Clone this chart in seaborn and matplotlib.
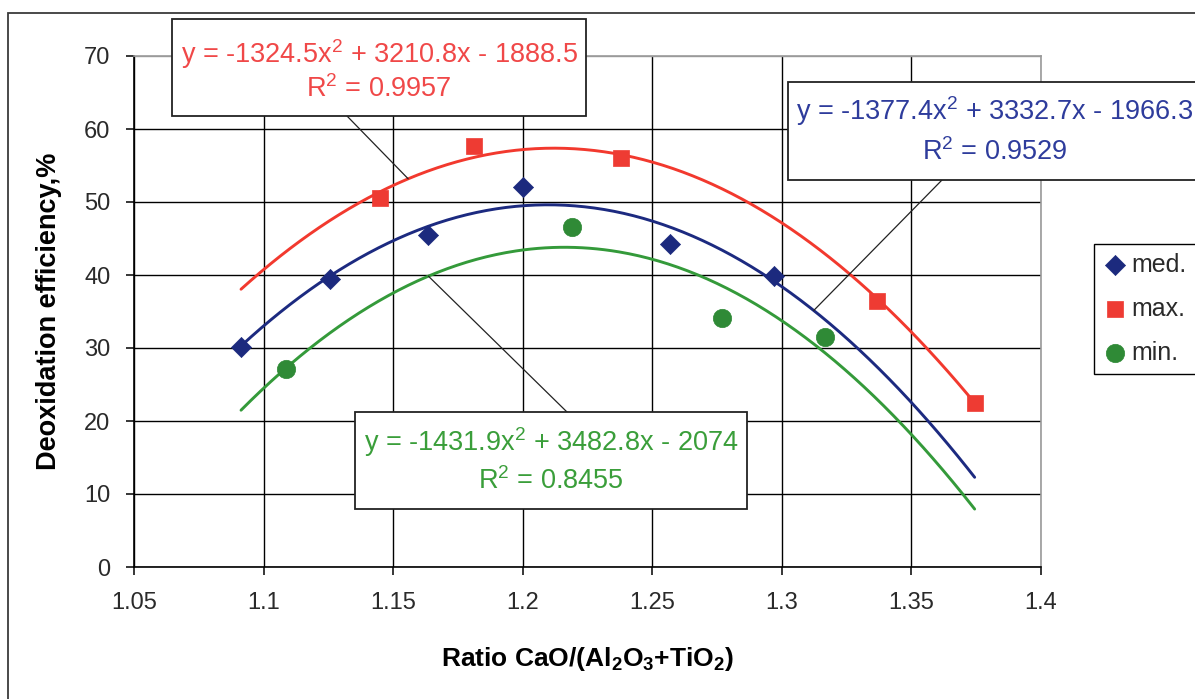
import numpy as np
import pandas as pd
import matplotlib
matplotlib.use("Agg")
import matplotlib.pyplot as plt
from matplotlib.patches import Rectangle, ConnectionPatch
import seaborn as sns

# ---------------- data ----------------
med_x = [1.0913, 1.1257, 1.1634, 1.2000, 1.2568, 1.2970]
med_y = [30.2, 39.5, 45.5, 52.0, 44.3, 39.9]
max_x = [1.1450, 1.1812, 1.2379, 1.3369, 1.3744]
max_y = [50.5, 57.7, 56.0, 36.4, 22.5]
min_x = [1.1088, 1.2191, 1.2770, 1.3167]
min_y = [27.1, 46.6, 34.1, 31.5]

series_names = ["med.", "max.", "min."]
# trendline coefficients printed on the chart (a, b, c of a*x^2 + b*x + c)
coef_med = [-1377.4, 3332.7, -1966.3]
coef_max = [-1324.5, 3210.8, -1888.5]
coef_min = [-1431.9, 3482.8, -2074.0]
r2_med, r2_max, r2_min = "0.9529", "0.9957", "0.8455"
eq_med = "y = -1377.4x$^{2}$ + 3332.7x - 1966.3"
eq_max = "y = -1324.5x$^{2}$ + 3210.8x - 1888.5"
eq_min = "y = -1431.9x$^{2}$ + 3482.8x - 2074"
# x position where each label's leader line meets its trendline
leader_x_med, leader_x_max, leader_x_min = 1.3123, 1.1558, 1.1636

x_ticks = [1.05, 1.1, 1.15, 1.2, 1.25, 1.3, 1.35, 1.4]
x_tick_labels = ["1.05", "1.1", "1.15", "1.2", "1.25", "1.3", "1.35", "1.4"]
y_ticks = [0, 10, 20, 30, 40, 50, 60, 70]

# ---------------- style ----------------
sns.set_theme(style="white")
plt.rcParams["font.family"] = ["Liberation Sans", "DejaVu Sans"]
plt.rcParams["mathtext.fontset"] = "custom"
plt.rcParams["mathtext.rm"] = "Liberation Sans"
plt.rcParams["mathtext.bf"] = "Liberation Sans:bold"
plt.rcParams["mathtext.it"] = "Liberation Sans:italic"
plt.rcParams["mathtext.default"] = "regular"

W, H = 1195, 699
fig = plt.figure(figsize=(W / 100, H / 100), dpi=100, facecolor="white")

def fx(px):
    return px / W

def fy(py):
    return 1 - py / H

ax = fig.add_axes([fx(134), fy(567), fx(1041) - fx(134), fy(56) - fy(567)])
ax.set_facecolor("white")

c_med_mk, c_max_mk, c_min_mk = "#1c2a7e", "#ee3b33", "#2f8a36"
c_med_ln, c_max_ln, c_min_ln = "#1c2a80", "#f2392e", "#349a3a"
c_med_tx, c_max_tx, c_min_tx = "#2e3c9c", "#f04848", "#3a9e3a"

# ---------------- trendlines ----------------
all_x = med_x + max_x + min_x
x_fit = np.linspace(min(all_x), max(all_x), 300)
rows = []
for name, coef in zip(series_names, [coef_med, coef_max, coef_min]):
    yf = np.polyval(coef, x_fit)
    rows.append(pd.DataFrame({"x": x_fit, "y": yf, "series": name}))
df_fit = pd.concat(rows, ignore_index=True)
sns.lineplot(data=df_fit, x="x", y="y", hue="series",
             palette={"med.": c_med_ln, "max.": c_max_ln, "min.": c_min_ln},
             linewidth=2.1, legend=False, ax=ax, zorder=3, estimator=None, sort=False)

# ---------------- points ----------------
df_pts = pd.concat([
    pd.DataFrame({"x": med_x, "y": med_y, "series": "med."}),
    pd.DataFrame({"x": max_x, "y": max_y, "series": "max."}),
    pd.DataFrame({"x": min_x, "y": min_y, "series": "min."}),
], ignore_index=True)
marker_map = {"med.": "D", "max.": "s", "min.": "o"}
size_map = {"med.": 105, "max.": 125, "min.": 175}
color_map = {"med.": c_med_mk, "max.": c_max_mk, "min.": c_min_mk}
for name in series_names:
    sub = df_pts[df_pts["series"] == name]
    sns.scatterplot(data=sub, x="x", y="y", marker=marker_map[name],
                    s=size_map[name], color=color_map[name], edgecolor=color_map[name],
                    linewidth=0.5, label=name, ax=ax, zorder=4, legend=False)

# ---------------- axes ----------------
ax.set_xlim(1.05, 1.4)
ax.set_ylim(0, 70)
ax.set_xticks(x_ticks)
ax.set_xticklabels(x_tick_labels)
ax.set_yticks(y_ticks)
ax.grid(True, color="black", linewidth=1.0)
ax.set_axisbelow(True)
for line, t in zip(ax.yaxis.get_gridlines(), y_ticks):
    if t == 70:
        line.set_color("#9a9a9a")
for line, t in zip(ax.xaxis.get_gridlines(), x_ticks):
    if abs(t - 1.4) < 1e-9:
        line.set_color("#9a9a9a")
for side in ["left", "bottom"]:
    ax.spines[side].set_color("black")
    ax.spines[side].set_linewidth(1.2)
for side in ["top", "right"]:
    ax.spines[side].set_color("#9a9a9a")
    ax.spines[side].set_linewidth(1.2)
ax.tick_params(axis="both", which="major", direction="out", length=6, width=1.1,
               color="black", labelsize=17, labelcolor="#2a2a2a")
ax.tick_params(axis="x", pad=12, bottom=True)
ax.tick_params(axis="y", pad=11, left=True)

ax.set_xlabel(r"Ratio CaO/(Al$_{\mathbf{2}}$O$_{\mathbf{3}}$+TiO$_{\mathbf{2}}$)",
              fontsize=19, fontweight="bold", color="black")
ax.set_ylabel("Deoxidation efficiency,%", fontsize=19.5, fontweight="bold", color="black")
ax.xaxis.set_label_coords(0.5, -(645 - 567) / 511, transform=ax.transAxes)
ax.xaxis.label.set_va("top")
ax.yaxis.set_label_coords(-(134 - 62) / 907, 0.5)

# ---------------- legend ----------------
handles, labels = ax.get_legend_handles_labels()
leg = fig.legend(handles, labels, loc="upper left",
                 bbox_to_anchor=(fx(1094), fy(244)), bbox_transform=fig.transFigure,
                 frameon=True, fancybox=False, edgecolor="black", framealpha=1,
                 fontsize=18, borderpad=0.35, handlelength=1.0, handletextpad=0.15,
                 labelspacing=0.8, borderaxespad=0, scatterpoints=1)
leg.get_frame().set_linewidth(1.0)
for t in leg.get_texts():
    t.set_color("#2a2a2a")

# ---------------- outer frame ----------------
fig.add_artist(Rectangle((fx(8), -0.5), 2, fy(13) + 0.5, transform=fig.transFigure,
                         fill=False, edgecolor="#3a3a3a", linewidth=1.3, zorder=0.5))

# ---------------- trendline label boxes ----------------
def label_box(x0, y0, x1, y1, cx, base1, base2, eq, r2, color):
    fig.add_artist(Rectangle((fx(x0), fy(y1)), fx(x1) - fx(x0), fy(y0) - fy(y1),
                             transform=fig.transFigure, facecolor="white",
                             edgecolor="#222222", linewidth=1.3, zorder=5))
    fig.text(fx(cx), fy(base1), eq, ha="center", va="baseline", fontsize=19.5,
             color=color, zorder=6)
    fig.text(fx(cx), fy(base2), "R$^{2}$ = " + r2, ha="center", va="baseline",
             fontsize=19.5, color=color, zorder=6)

def leader(px, py, xd, coef):
    cp = ConnectionPatch(xyA=(fx(px), fy(py)), coordsA=fig.transFigure,
                         xyB=(xd, np.polyval(coef, xd)), coordsB=ax.transData,
                         color="#222222", linewidth=0.9, zorder=3.5)
    fig.add_artist(cp)

leader(347, 116, leader_x_max, coef_max)
leader(567, 412, leader_x_min, coef_min)
leader(942, 180, leader_x_med, coef_med)

label_box(172, 19, 586, 116, 379, 63, 97, eq_max, r2_max, c_max_tx)
label_box(788, 82, 1215, 180, 995, 120, 160, eq_med, r2_med, c_med_tx)
label_box(355, 412, 747, 509, 551, 451, 489, eq_min, r2_min, c_min_tx)

fig.savefig("out.png", dpi=100, facecolor="white")
